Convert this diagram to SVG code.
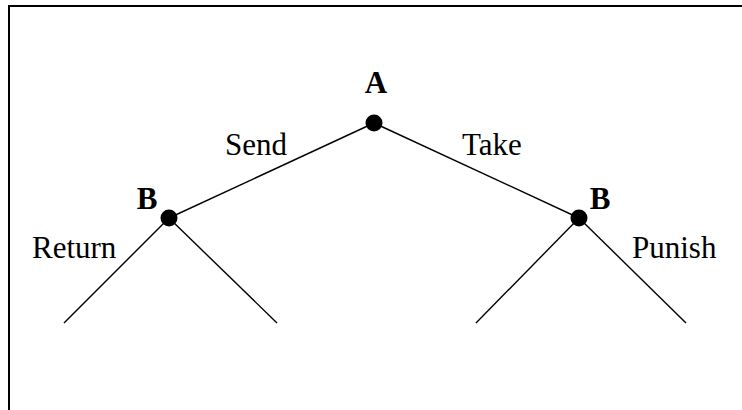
<svg xmlns="http://www.w3.org/2000/svg" width="742" height="410" viewBox="0 0 742 410">
<style>
.edge{stroke:#000;stroke-width:1.4;fill:none}
.dot{fill:#000}
.lbl{font-family:"Liberation Serif","Times New Roman",serif;font-size:31px;fill:#000}
.pl{font-family:"Liberation Serif","Times New Roman",serif;font-size:31px;font-weight:bold;fill:#000}
</style>
<rect width="742" height="410" fill="#fff"/>
<path d="M9,410 V6 H742" stroke="#000" stroke-width="2" fill="none"/>
<g id="connectors">
<line class="edge" x1="374" y1="123" x2="169" y2="218"/>
<line class="edge" x1="374" y1="123" x2="579" y2="218"/>
<line class="edge" x1="169" y1="218" x2="64" y2="323"/>
<line class="edge" x1="169" y1="218" x2="277" y2="323"/>
<line class="edge" x1="579" y1="218" x2="476" y2="323"/>
<line class="edge" x1="579" y1="218" x2="686" y2="323"/>
<text class="lbl" x="225" y="155">Send</text>
<text class="lbl" x="462" y="155">Take</text>
<text class="lbl" x="32" y="258">Return</text>
<text class="lbl" x="632" y="258">Punish</text>
</g>
<g id="nodeA">
<circle class="dot" cx="374" cy="123" r="8.5"/>
<text class="pl" x="376" y="93" text-anchor="middle">A</text>
</g>
<g id="nodeB1">
<circle class="dot" cx="169" cy="218" r="8.5"/>
<text class="pl" x="147" y="209" text-anchor="middle">B</text>
</g>
<g id="nodeB2">
<circle class="dot" cx="579" cy="218" r="8.5"/>
<text class="pl" x="600" y="209" text-anchor="middle">B</text>
</g>
</svg>
